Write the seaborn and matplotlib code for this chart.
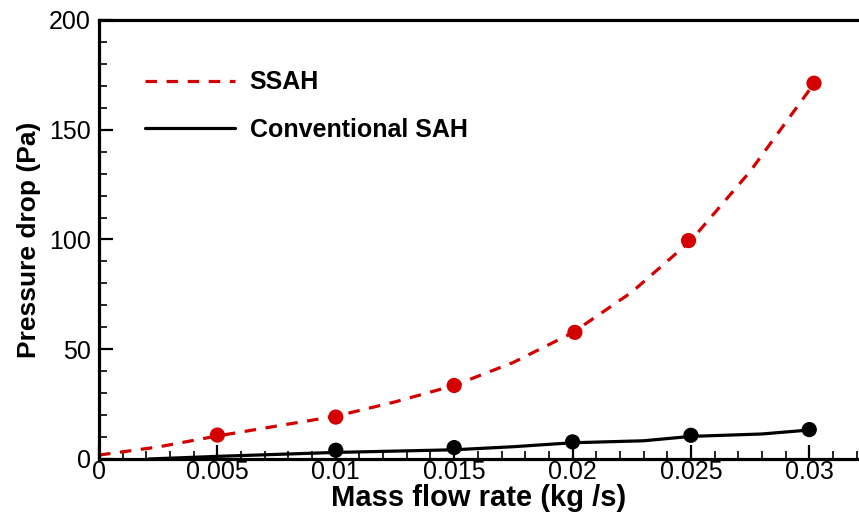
import numpy as np
import pandas as pd
import matplotlib
matplotlib.use('Agg')
import matplotlib.pyplot as plt
from matplotlib.ticker import MultipleLocator
import seaborn as sns

# Measured points (markers)
ssah_x = [0.005, 0.01, 0.015, 0.0201, 0.0249, 0.0302]
ssah_y = [10.9, 19.1, 33.5, 57.7, 99.5, 171.2]
conv_x = [0.01, 0.015, 0.02, 0.025, 0.03]
conv_y = [4.0, 5.2, 7.8, 10.8, 13.4]

# Trend lines
ssah_fit_x = [0.0, 0.0025, 0.005, 0.0075, 0.01, 0.0125, 0.015, 0.0175,
              0.02, 0.0225, 0.025, 0.0275, 0.0302]
ssah_fit_y = [1.8, 5.5, 10.5, 15.0, 19.5, 26.0, 33.5, 44.0,
              57.5, 76.0, 99.5, 131.0, 171.0]
conv_line_x = [0.0021, 0.005, 0.01, 0.015, 0.0175, 0.02, 0.023, 0.025, 0.028, 0.03]
conv_line_y = [0.0, 1.2, 3.0, 4.2, 5.6, 7.4, 8.3, 10.3, 11.4, 13.2]

sns.set_style('ticks', {'axes.edgecolor': 'black', 'text.color': 'black',
                        'axes.labelcolor': 'black', 'xtick.color': 'black',
                        'ytick.color': 'black'})
plt.rcParams['font.family'] = ['Liberation Sans', 'DejaVu Sans']

fit_df = pd.DataFrame({'x': ssah_fit_x, 'y': ssah_fit_y})
line_df = pd.DataFrame({'x': conv_line_x, 'y': conv_line_y})
ssah_df = pd.DataFrame({'x': ssah_x, 'y': ssah_y})
conv_df = pd.DataFrame({'x': conv_x, 'y': conv_y})

fig = plt.figure(figsize=(8.59, 5.18), dpi=100)
ax = fig.add_axes([0.1153, 0.1139, 0.8847, 0.8475])

red = '#d40000'
sns.lineplot(data=fit_df, x='x', y='y', ax=ax, color=red, lw=2.3,
             label='SSAH', sort=False)
ax.lines[-1].set_dashes([3.6, 3.0])
sns.lineplot(data=line_df, x='x', y='y', ax=ax, color='black', lw=2.3,
             label='Conventional SAH', sort=False)
sns.scatterplot(data=ssah_df, x='x', y='y', ax=ax, color=red, s=120,
                edgecolor='none', zorder=5)
sns.scatterplot(data=conv_df, x='x', y='y', ax=ax, color='black', s=120,
                edgecolor='none', zorder=5)

ax.set_xlim(0, 0.0321)
ax.set_ylim(0, 200)
ax.yaxis.set_major_locator(MultipleLocator(50))
ax.yaxis.set_minor_locator(MultipleLocator(10))
ax.set_xticks([0, 0.005, 0.01, 0.015, 0.02, 0.025, 0.03])
ax.set_xticklabels(['0', '0.005', '0.01', '0.015', '0.02', '0.025', '0.03'])
ax.xaxis.set_minor_locator(MultipleLocator(0.001))

ax.tick_params(which='major', direction='in', length=10, width=1.6,
               labelsize=18, pad=6)
ax.tick_params(which='minor', direction='in', length=6, width=1.2)
ax.tick_params(axis='x', pad=1)

for side in ['left', 'bottom', 'top']:
    ax.spines[side].set_visible(True)
    ax.spines[side].set_linewidth(2.3)
ax.spines['right'].set_visible(False)

ax.set_xlabel('Mass flow rate (kg /s)', fontsize=21, fontweight='bold', labelpad=0)
ax.set_ylabel('Pressure drop (Pa)', fontsize=19, fontweight='bold', labelpad=6)

leg = ax.legend(loc='upper left', bbox_to_anchor=(0.06, 0.885), frameon=False,
                prop={'size': 18, 'weight': 'bold'}, handlelength=3.6,
                handletextpad=0.6, labelspacing=0.95, borderpad=0,
                borderaxespad=0)

fig.savefig('out.png', dpi=100)
